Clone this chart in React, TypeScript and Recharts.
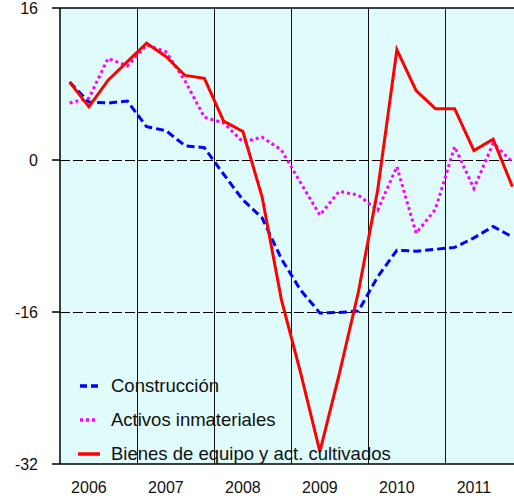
import { CartesianGrid, Legend, Line, LineChart, ReferenceLine, XAxis, YAxis } from "recharts";

// quarterly series, 2006Q1 .. 2011Q4
const YEARS = ["2006", "2007", "2008", "2009", "2010", "2011"];
const CONSTRUCCION = [
  8.2, 6.1, 6.0, 6.2, 3.5, 3.1, 1.5, 1.3, -1.5, -4.2, -6.1, -10.4,
  -13.7, -16.1, -16.05, -15.9, -12.3, -9.5, -9.6, -9.4, -9.2, -8.2, -7.0, -8.1,
];
const ACTIVOS = [
  6.0, 6.5, 10.7, 9.9, 12.1, 11.4, 8.3, 4.5, 3.9, 1.9, 2.4, 1.05,
  -2.4, -5.8, -3.3, -3.7, -5.3, -0.7, -7.7, -5.2, 1.4, -3.0, 1.75, -0.2,
];
const BIENES = [
  8.2, 5.6, 8.4, 10.35, 12.3, 10.9, 8.9, 8.6, 4.1, 3.0, -3.9, -14.7,
  -22.4, -30.7, -22.6, -13.9, -3.2, 11.6, 7.3, 5.4, 5.4, 1.0, 2.2, -2.8,
];
const Y_TICKS = [-32, -16, 0, 16];

const data = CONSTRUCCION.map((v, i) => ({
  i,
  construccion: v,
  activos: ACTIVOS[i],
  bienes: BIENES[i],
}));

// year labels sit on the 2nd quarter, separators between Q4 and Q1
const yearTicks = YEARS.map((_, k) => k * 4 + 1);
const yearBounds = YEARS.slice(1).map((_, k) => k * 4 + 3.5);

const SERIES = [
  { key: "construccion", name: "Construcción", color: "#0000ff", dash: "8 4" },
  { key: "activos", name: "Activos inmateriales", color: "#ff00ff", dash: "3 3" },
  { key: "bienes", name: "Bienes de equipo y act. cultivados", color: "#ff0000", dash: undefined },
];

const FONT = '"Liberation Sans", Arial, sans-serif';

function LegendBox() {
  return (
    <div style={{ fontFamily: FONT, fontSize: 18.5, color: "#111" }}>
      {SERIES.map((s) => (
        <div key={s.key} style={{ display: "flex", alignItems: "center", height: 34 }}>
          <svg width={22} height={34}>
            <line
              x1={s.dash ? 2 : 0}
              x2={s.dash ? 20 : 22}
              y1={17}
              y2={17}
              stroke={s.color}
              strokeWidth={3.5}
              strokeDasharray={s.key === "construccion" ? "7 4" : s.dash}
            />
          </svg>
          <span style={{ marginLeft: 11, whiteSpace: "nowrap" }}>{s.name}</span>
        </div>
      ))}
    </div>
  );
}

export default function App() {
  return (
    <div
      style={{
        position: "absolute",
        left: 0,
        top: 0,
        width: 514,
        height: 504,
        overflow: "hidden",
        background: "#fff",
        fontFamily: FONT,
      }}
    >
      <LineChart width={530} height={504} data={data} margin={{ top: 8, right: 8, bottom: 0, left: 0 }}>
        <CartesianGrid horizontal={false} vertical={false} fill="#dffbfb" stroke="none" />
        <XAxis
          type="number"
          dataKey="i"
          domain={[-0.5, 23.5]}
          ticks={yearTicks}
          tickFormatter={(v: number) => YEARS[(v - 1) / 4]}
          height={40}
          tickLine={false}
          tickSize={8}
          tickMargin={10}
          axisLine={{ stroke: "#000", strokeWidth: 1.5 }}
          tick={{ fill: "#111", fontSize: 16, fontFamily: FONT }}
          interval={0}
        />
        <YAxis
          type="number"
          domain={[-32, 16]}
          ticks={Y_TICKS}
          width={60}
          tickSize={8}
          tickMargin={14}
          axisLine={{ stroke: "#000", strokeWidth: 1.5 }}
          tickLine={{ stroke: "#000", strokeWidth: 1.5 }}
          tick={{ fill: "#111", fontSize: 16, fontFamily: FONT }}
          interval={0}
        />
        {yearBounds.map((x) => (
          <ReferenceLine key={x} x={x} stroke="#111" strokeWidth={1} shapeRendering="crispEdges" />
        ))}
        <ReferenceLine y={16} stroke="#000" strokeWidth={1.5} />
        <ReferenceLine y={0} stroke="#000" strokeWidth={1} strokeDasharray="10 3" shapeRendering="crispEdges" />
        <ReferenceLine y={-16} stroke="#000" strokeWidth={1} strokeDasharray="10 3" shapeRendering="crispEdges" />
        {SERIES.map((s) => (
          <Line
            key={s.key}
            type="linear"
            dataKey={s.key}
            name={s.name}
            stroke={s.color}
            strokeWidth={3}
            strokeDasharray={s.dash}
            dot={false}
            activeDot={false}
            isAnimationActive={false}
          />
        ))}
        <Legend
          layout="vertical"
          align="center"
          verticalAlign="middle"
          content={() => <LegendBox />}
          wrapperStyle={{ left: 78, top: 369, width: "auto" }}
        />
      </LineChart>
    </div>
  );
}
